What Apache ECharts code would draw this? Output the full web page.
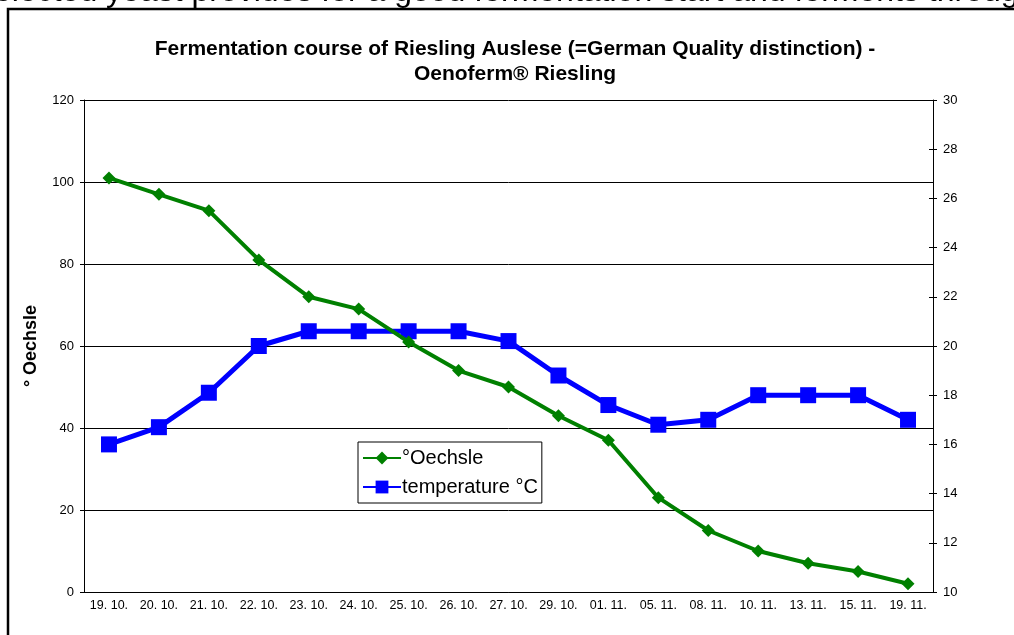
<!DOCTYPE html>
<html>
<head>
<meta charset="utf-8">
<script src="https://cdn.jsdelivr.net/npm/echarts@6/dist/echarts.min.js"></script>
<style>
  html, body { margin: 0; padding: 0; background: #fff; }
  #chart { width: 1014px; height: 635px; }
</style>
</head>
<body>
<div id="chart"></div>
<script>
// data
const days = ["19. 10.", "20. 10.", "21. 10.", "22. 10.", "23. 10.", "24. 10.", "25. 10.", "26. 10.", "27. 10.",
  "29. 10.", "01. 11.", "05. 11.", "08. 11.", "10. 11.", "13. 11.", "15. 11.", "19. 11."];
const oechsle = [101, 97, 93, 81, 72, 69, 61, 54, 50, 43, 37, 23, 15, 10, 7, 5, 2];
const temperature = [16.0, 16.7, 18.1, 20.0, 20.6, 20.6, 20.6, 20.6, 20.2, 18.8, 17.6, 16.8, 17.0, 18.0, 18.0, 18.0, 17.0];

const font = "Arial, 'Liberation Sans', sans-serif";

const chart = echarts.init(document.getElementById("chart"));

chart.setOption({
  animation: false,
  backgroundColor: "#fff",
  textStyle: { fontFamily: font },
  title: {
    text: "Fermentation course of Riesling Auslese (=German Quality distinction) -\nOenoferm® Riesling",
    left: 510,
    top: 32,
    textAlign: "center",
    textStyle: { fontSize: 21, fontWeight: "bold", color: "#000", lineHeight: 25, fontFamily: font }
  },
  graphic: [
    {
      // cut-off line of the page text above the chart
      type: "text",
      x: -22,
      y: 8,
      style: {
        text: "selected yeast provides for a good fermentation start and ferments through",
        fontSize: 32,
        fontFamily: font,
        fill: "#000",
        textAlign: "left",
        verticalAlign: "bottom"
      }
    },
    {
      type: "rect",
      shape: { x: 8, y: 9, width: 1030, height: 700 },
      style: { fill: null, stroke: "#000", lineWidth: 2.5 },
      z: 100
    }
  ],
  legend: {
    orient: "vertical",
    left: 358,
    top: 442,
    padding: [6, 4, 6, 4],
    itemGap: 9,
    itemWidth: 38,
    itemHeight: 16,
    backgroundColor: "#fff",
    borderColor: "#000",
    borderWidth: 1,
    textStyle: { fontSize: 20, color: "#000", fontFamily: font, padding: [0, 0, 0, -4] },
    data: ["°Oechsle", "temperature °C"]
  },
  grid: { left: 84, right: 81, top: 100, bottom: 43 },
  xAxis: {
    type: "category",
    data: days,
    boundaryGap: true,
    axisLine: { lineStyle: { color: "#000", width: 1 } },
    axisTick: { length: 5, lineStyle: { color: "#000" } },
    axisLabel: { color: "#000", fontSize: 12.5, margin: 7, interval: 0 }
  },
  yAxis: [
    {
      type: "value",
      min: 0,
      max: 120,
      interval: 20,
      name: "° Oechsle",
      nameLocation: "middle",
      nameGap: 44,
      nameTextStyle: { fontSize: 18, fontWeight: "bold", color: "#000" },
      axisLine: { show: true, lineStyle: { color: "#000" } },
      axisTick: { show: true, length: 4, lineStyle: { color: "#000" } },
      axisLabel: { color: "#000", fontSize: 13, margin: 10 },
      splitLine: { show: true, lineStyle: { color: "#000", width: 1 } }
    },
    {
      type: "value",
      position: "right",
      min: 10,
      max: 30,
      interval: 2,
      axisLine: { show: true, lineStyle: { color: "#000" } },
      axisTick: { show: true, length: 4, lineStyle: { color: "#000" } },
      axisLabel: { color: "#000", fontSize: 13, margin: 10 },
      splitLine: { show: false }
    },
    {
      // inner half of the crossing ticks, left
      type: "value",
      position: "left",
      min: 0,
      max: 120,
      interval: 20,
      axisLine: { show: false },
      axisTick: { show: true, inside: true, length: 4, lineStyle: { color: "#000" } },
      axisLabel: { show: false },
      splitLine: { show: false }
    },
    {
      // inner half of the crossing ticks, right
      type: "value",
      position: "right",
      min: 10,
      max: 30,
      interval: 2,
      axisLine: { show: false },
      axisTick: { show: true, inside: true, length: 4, lineStyle: { color: "#000" } },
      axisLabel: { show: false },
      splitLine: { show: false }
    }
  ],
  series: [
    {
      name: "°Oechsle",
      type: "line",
      yAxisIndex: 0,
      data: oechsle,
      symbol: "diamond",
      symbolSize: 13,
      color: "#008000",
      lineStyle: { color: "#008000", width: 4 },
      itemStyle: { color: "#008000" },
      z: 3
    },
    {
      name: "temperature °C",
      type: "line",
      yAxisIndex: 1,
      data: temperature,
      symbol: "rect",
      symbolSize: 16,
      color: "#0000ff",
      lineStyle: { color: "#0000ff", width: 5 },
      itemStyle: { color: "#0000ff" },
      z: 2
    }
  ]
});
</script>
</body>
</html>
